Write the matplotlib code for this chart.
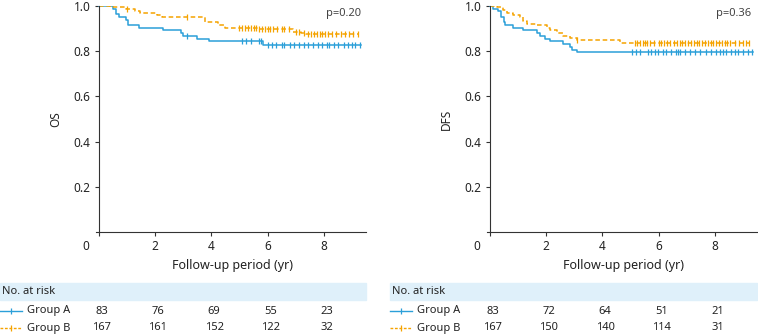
import numpy as np
import matplotlib
matplotlib.use("Agg")
import matplotlib.pyplot as plt
from matplotlib.patches import Rectangle
from matplotlib.lines import Line2D
from matplotlib.transforms import blended_transform_factory

plt.rcParams['font.family'] = ['Noto Sans', 'DejaVu Sans']

BLUE = '#2b9fd9'
ORANGE = '#f5a300'
BAND = '#dff0fa'

# OS curves (step times, survival)
os_a_t = [0, 0.5, 0.6, 0.72, 0.95, 1.02, 1.43, 2.29, 2.93, 3.0, 3.5, 3.93, 5.82, 9.32]
os_a_s = [1, 0.988, 0.964, 0.952, 0.94, 0.916, 0.904, 0.892, 0.88, 0.867, 0.855, 0.843, 0.829, 0.829]
os_a_cens = [3.14, 5.1, 5.25, 5.4, 5.7, 5.75, 6.0, 6.15, 6.3, 6.5, 6.6, 6.8, 6.95, 7.1, 7.3,
             7.45, 7.6, 7.8, 7.95, 8.1, 8.2, 8.35, 8.5, 8.7, 8.85, 9.0, 9.1, 9.3]
os_b_t = [0, 0.4, 0.95, 1.28, 1.46, 2.07, 2.25, 3.79, 4.25, 4.5, 5.64, 6.89, 7.18, 7.36, 9.25]
os_b_s = [1, 0.994, 0.988, 0.976, 0.97, 0.958, 0.952, 0.928, 0.916, 0.904, 0.898, 0.886, 0.88, 0.874, 0.874]
os_b_cens = [1.0, 3.14, 5.0, 5.1, 5.2, 5.3, 5.4, 5.5, 5.6, 5.7, 5.8, 5.9, 6.0, 6.1, 6.2, 6.35,
             6.5, 6.6, 6.75, 7.0, 7.1, 7.3, 7.45, 7.55, 7.65, 7.75, 7.85, 7.95, 8.05, 8.15,
             8.3, 8.45, 8.6, 8.75, 8.9, 9.05, 9.2]

# DFS curves
dfs_a_t = [0, 0.1, 0.3, 0.4, 0.5, 0.53, 0.82, 1.17, 1.67, 1.78, 1.95, 2.13, 2.6, 2.84, 2.91, 3.09, 9.35]
dfs_a_s = [1, 0.988, 0.976, 0.952, 0.928, 0.916, 0.904, 0.892, 0.88, 0.868, 0.856, 0.843, 0.831,
           0.819, 0.807, 0.795, 0.795]
dfs_a_cens = [5.07, 5.21, 5.35, 5.62, 5.74, 5.86, 5.97, 6.15, 6.28, 6.45, 6.63, 6.69, 6.75, 6.93,
              7.1, 7.28, 7.46, 7.7, 7.87, 8.05, 8.17, 8.28, 8.4, 8.59, 8.7, 8.82, 9.0, 9.18, 9.33]
dfs_b_t = [0, 0.25, 0.46, 0.6, 0.82, 1.07, 1.17, 1.31, 1.67, 2.02, 2.13, 2.38, 2.6, 2.84, 3.09, 4.62, 9.24]
dfs_b_s = [1, 0.994, 0.982, 0.97, 0.958, 0.952, 0.934, 0.922, 0.916, 0.904, 0.892, 0.88, 0.868,
           0.86, 0.85, 0.838, 0.838]
dfs_b_cens = [3.1, 5.15, 5.25, 5.35, 5.45, 5.5, 5.6, 5.7, 5.85, 6.0, 6.1, 6.2, 6.3, 6.4, 6.55,
              6.65, 6.75, 6.85, 6.95, 7.05, 7.15, 7.25, 7.35, 7.45, 7.55, 7.65, 7.75, 7.85,
              7.95, 8.05, 8.15, 8.25, 8.35, 8.45, 8.55, 8.7, 8.85, 9.0, 9.1, 9.2]

risk_times = [0, 2, 4, 6, 8]
os_risk_a = [83, 76, 69, 55, 23]
os_risk_b = [167, 161, 152, 122, 32]
dfs_risk_a = [83, 72, 64, 51, 21]
dfs_risk_b = [167, 150, 140, 114, 31]
groups = ['Group A', 'Group B']

W, H = 758, 335
fig = plt.figure(figsize=(W / 100, H / 100), dpi=100)


def fx(px):
    return px / W


def fy(py):
    return 1 - py / H


def km(ax, t, s, cens, color, dashed):
    ls = (0, (3, 1.8)) if dashed else '-'
    ax.step(t, s, where='post', color=color, lw=1.1, ls=ls)
    t = np.asarray(t)
    idx = np.searchsorted(t, cens, side='right') - 1
    cs = np.asarray(s)[idx]
    ax.plot(cens, cs, ls='none', marker='|', ms=5, mew=0.9, color=color)


def panel(left_px, ylab, pval, a, b, risk_a, risk_b, band_x0):
    ax = fig.add_axes([fx(left_px), fy(232), 270 / W, 226 / H])
    km(ax, *a, BLUE, False)
    km(ax, *b, ORANGE, True)
    ax.set_xlim(-0.1, 9.5)
    ax.set_ylim(0, 1.0)
    ax.spines['top'].set_visible(False)
    ax.spines['right'].set_visible(False)
    ax.spines['left'].set_position(('data', 0))
    ax.spines['left'].set_color('#333333')
    ax.spines['bottom'].set_color('#333333')
    ax.set_xticks(risk_times)
    ax.set_xticklabels(['', '2', '4', '6', '8'])
    ax.set_yticks([0.2, 0.4, 0.6, 0.8, 1.0])
    ax.set_yticklabels(['0.2', '0.4', '0.6', '0.8', '1.0'])
    ax.tick_params(direction='out', length=3, width=0.8, labelsize=8.5, colors='#333333',
                   labelcolor='#222222', pad=3)
    ax.text(-0.45, -0.065, '0', transform=blended_transform_factory(ax.transData, ax.transAxes),
            ha='center', va='center', fontsize=8.5, color='#222222')
    ax.set_ylabel(ylab, fontsize=8.5, color='#222222')
    ax.yaxis.set_label_coords(-0.125, 0.5)
    ax.set_xlabel('Follow-up period (yr)', fontsize=9, color='#222222')
    ax.xaxis.set_label_coords(0.505, -0.12)
    ax.text(0.98, 0.965, pval, transform=ax.transAxes, ha='right', va='center',
            fontsize=8, color='#444444')

    # number at risk table
    fig.patches.append(Rectangle((fx(band_x0), fy(300)), fx(left_px + 270 - band_x0), 17 / H,
                                 transform=fig.transFigure, color=BAND, zorder=0))
    fig.text(fx(band_x0 + 2), fy(291), 'No. at risk', fontsize=8, va='center', color='#222222')
    tr = blended_transform_factory(ax.transData, fig.transFigure)
    for row, (g, vals, col, dashed) in enumerate(zip(groups, [risk_a, risk_b], [BLUE, ORANGE],
                                                    [False, True])):
        ypx = 311 + row * 17
        ls = (0, (2, 1.2)) if dashed else '-'
        fig.lines.append(Line2D([fx(band_x0), fx(band_x0 + 22)], [fy(ypx), fy(ypx)],
                                transform=fig.transFigure, color=col, lw=1.0, ls=ls))
        fig.lines.append(Line2D([fx(band_x0 + 11)], [fy(ypx)], transform=fig.transFigure,
                                color=col, marker='|', ms=5, mew=0.9))
        fig.text(fx(band_x0 + 27), fy(ypx), g, fontsize=8, va='center', color='#222222')
        for t, v in zip(risk_times, vals):
            ax.text(t + 0.1, fy(ypx), str(v), transform=tr, ha='center', va='center',
                    fontsize=8, color='#222222')
    return ax


panel(96, 'OS', 'p=0.20', (os_a_t, os_a_s, os_a_cens), (os_b_t, os_b_s, os_b_cens),
      os_risk_a, os_risk_b, 0)
panel(487, 'DFS', 'p=0.36', (dfs_a_t, dfs_a_s, dfs_a_cens), (dfs_b_t, dfs_b_s, dfs_b_cens),
      dfs_risk_a, dfs_risk_b, 390)

fig.savefig('out.png', dpi=100)
